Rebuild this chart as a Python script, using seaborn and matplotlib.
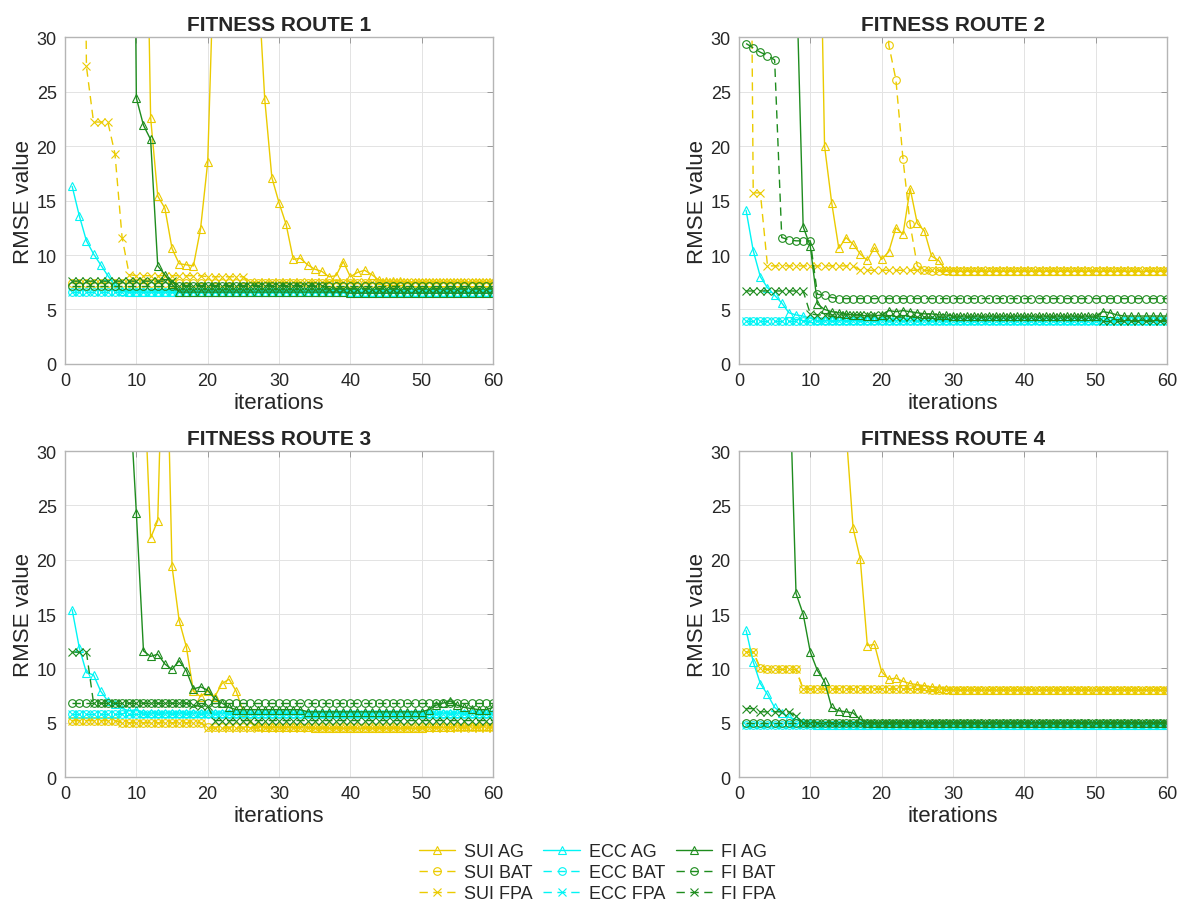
import matplotlib
matplotlib.use('Agg')
import matplotlib.pyplot as plt
import seaborn as sns

iters = list(range(1, 61))

# ---------------- route 1 ----------------
r1_sui_ag = [100, 100, 100, 100, 100, 100, 100, 100, 100, 100, 60, 22.6, 15.4, 14.3, 10.6, 9.2, 9.1, 9.0, 12.4, 18.5,
             40, 80, 90, 95, 85, 70, 36, 24.3, 17.1, 14.8, 12.8, 9.6, 9.7, 9.1, 8.7, 8.5, 8.0, 8.1, 9.4, 8.0,
             8.4, 8.6, 8.2, 7.7, 7.6, 7.6, 7.6, 7.5, 7.5, 7.5, 7.5, 7.5, 7.5, 7.5, 7.5, 7.5, 7.5, 7.5, 7.5, 7.5]
r1_sui_bat = [7.4, 7.4, 7.4, 7.4, 7.4, 7.4, 7.4, 7.4, 7.4, 7.4, 7.4, 7.4, 7.4, 7.4, 7.4, 7.4, 7.4, 7.4, 7.4, 7.4,
              7.4, 7.4, 7.4, 7.4, 7.4, 7.4, 7.4, 7.4, 7.4, 7.4, 7.4, 7.4, 7.4, 7.4, 7.4, 7.4, 7.4, 7.4, 7.4, 7.4,
              7.4, 7.4, 7.4, 7.4, 7.4, 7.4, 7.4, 7.4, 7.4, 7.4, 7.4, 7.4, 7.4, 7.4, 7.4, 7.4, 7.4, 7.4, 7.4, 7.4]
r1_sui_fpa = [100, 100, 27.3, 22.2, 22.2, 22.2, 19.3, 11.6, 8.2, 8.1, 8.1, 8.1, 8.1, 8.1, 8.1, 8.1, 8.1, 8.1, 8.1, 8.0,
              8.0, 8.0, 8.0, 8.0, 8.0, 7.5, 7.5, 7.5, 7.5, 7.5, 7.5, 7.5, 7.5, 7.5, 7.5, 7.5, 7.5, 7.5, 7.5, 7.5,
              7.5, 7.5, 7.5, 7.5, 7.5, 7.5, 7.5, 7.5, 7.5, 7.5, 7.5, 7.5, 7.5, 7.5, 7.5, 7.5, 7.5, 7.5, 7.5, 7.5]
r1_ecc_ag = [16.3, 13.6, 11.3, 10.1, 9.1, 8.1, 7.2, 6.7, 6.6, 6.6, 6.6, 6.6, 6.6, 6.6, 6.6, 6.6, 6.6, 6.6, 6.6, 6.6,
             6.6, 6.6, 6.6, 6.6, 6.6, 6.6, 6.6, 6.6, 6.6, 6.6, 6.6, 6.6, 6.6, 6.6, 6.6, 6.6, 6.6, 6.6, 6.6, 6.6,
             6.6, 6.6, 6.6, 6.6, 6.6, 6.6, 6.6, 6.6, 6.6, 6.6, 6.6, 6.6, 6.6, 6.6, 6.6, 6.6, 6.6, 6.6, 6.6, 6.6]
r1_ecc_bat = [6.6, 6.6, 6.6, 6.6, 6.6, 6.6, 6.6, 6.6, 6.6, 6.6, 6.6, 6.6, 6.6, 6.6, 6.6, 6.6, 6.6, 6.6, 6.6, 6.6,
              6.6, 6.6, 6.6, 6.6, 6.6, 6.6, 6.6, 6.6, 6.6, 6.6, 6.6, 6.6, 6.6, 6.6, 6.6, 6.6, 6.6, 6.6, 6.6, 6.6,
              6.6, 6.6, 6.6, 6.6, 6.6, 6.6, 6.6, 6.6, 6.6, 6.6, 6.6, 6.6, 6.6, 6.6, 6.6, 6.6, 6.6, 6.6, 6.6, 6.6]
r1_ecc_fpa = [6.6, 6.6, 6.6, 6.6, 6.6, 6.6, 6.6, 6.6, 6.6, 6.6, 6.6, 6.6, 6.6, 6.6, 6.6, 6.6, 6.6, 6.6, 6.6, 6.6,
              6.6, 6.6, 6.6, 6.6, 6.6, 6.6, 6.6, 6.6, 6.6, 6.6, 6.6, 6.6, 6.6, 6.6, 6.6, 6.6, 6.6, 6.6, 6.6, 6.6,
              6.6, 6.6, 6.6, 6.6, 6.6, 6.6, 6.6, 6.6, 6.6, 6.6, 6.6, 6.6, 6.6, 6.6, 6.6, 6.6, 6.6, 6.6, 6.6, 6.6]
r1_fi_ag = [100, 100, 100, 100, 100, 100, 100, 100, 100, 24.4, 21.9, 20.6, 9.0, 8.2, 7.3, 6.6, 6.6, 6.6, 6.6, 6.6,
            6.6, 6.6, 6.6, 6.6, 6.6, 6.6, 6.6, 6.6, 6.6, 6.6, 6.6, 6.6, 6.6, 6.6, 6.6, 6.6, 6.6, 6.6, 6.6, 6.5,
            6.5, 6.5, 6.5, 6.5, 6.5, 6.5, 6.5, 6.5, 6.5, 6.5, 6.5, 6.5, 6.5, 6.5, 6.5, 6.5, 6.5, 6.5, 6.5, 6.5]
r1_fi_bat = [7.2, 7.2, 7.2, 7.2, 7.2, 7.2, 7.2, 7.2, 7.2, 7.2, 7.2, 7.2, 7.2, 7.2, 7.2, 7.2, 7.2, 7.2, 7.2, 7.2,
             7.2, 7.2, 7.2, 7.2, 7.2, 7.2, 7.2, 7.2, 7.2, 7.2, 7.2, 7.2, 7.2, 7.2, 7.2, 7.2, 7.2, 7.2, 7.2, 7.2,
             7.2, 7.2, 7.2, 7.2, 7.2, 7.2, 7.2, 7.2, 7.2, 7.2, 7.2, 7.2, 7.2, 7.2, 7.2, 7.2, 7.2, 7.2, 7.2, 7.2]
r1_fi_fpa = [7.6, 7.6, 7.6, 7.6, 7.6, 7.6, 7.6, 7.6, 7.6, 7.6, 7.6, 7.6, 7.6, 7.6, 7.6, 7.2, 7.2, 7.2, 7.2, 7.2,
             7.2, 7.2, 7.2, 7.2, 7.2, 7.2, 7.2, 7.2, 7.2, 7.2, 7.2, 7.2, 7.2, 7.2, 7.2, 7.2, 6.9, 6.9, 6.9, 6.9,
             6.9, 6.9, 6.9, 6.9, 6.9, 6.9, 6.9, 6.9, 6.9, 6.9, 6.9, 6.9, 6.9, 6.9, 6.9, 6.9, 6.9, 6.9, 6.9, 6.9]

# ---------------- route 2 ----------------
r2_sui_ag = [100, 100, 100, 100, 100, 100, 100, 100, 100, 100, 55, 20.0, 14.8, 10.6, 11.6, 11.0, 10.1, 9.5, 10.7, 9.6,
             10.3, 12.5, 11.9, 16.1, 12.9, 12.2, 9.9, 9.5, 8.6, 8.5, 8.5, 8.5, 8.5, 8.5, 8.5, 8.5, 8.5, 8.5, 8.5, 8.5,
             8.5, 8.5, 8.5, 8.5, 8.5, 8.5, 8.5, 8.5, 8.5, 8.5, 8.5, 8.5, 8.5, 8.5, 8.5, 8.5, 8.5, 8.5, 8.5, 8.5]
r2_sui_bat = [100, 100, 100, 100, 100, 100, 100, 100, 100, 100, 100, 100, 100, 100, 100, 100, 100, 100, 100, 100,
              29.3, 26.1, 18.8, 12.8, 9.0, 8.6, 8.5, 8.5, 8.5, 8.5, 8.5, 8.5, 8.5, 8.5, 8.5, 8.5, 8.5, 8.5, 8.5, 8.5,
              8.5, 8.5, 8.5, 8.5, 8.5, 8.5, 8.5, 8.5, 8.5, 8.5, 8.5, 8.5, 8.5, 8.5, 8.5, 8.5, 8.5, 8.5, 8.5, 8.5]
r2_sui_fpa = [100, 15.7, 15.7, 9.0, 9.0, 9.0, 9.0, 9.0, 9.0, 9.0, 9.0, 9.0, 9.0, 9.0, 9.0, 9.0, 8.6, 8.6, 8.6, 8.6,
              8.6, 8.6, 8.6, 8.6, 8.6, 8.6, 8.6, 8.6, 8.6, 8.6, 8.6, 8.6, 8.6, 8.6, 8.6, 8.6, 8.6, 8.6, 8.6, 8.6,
              8.6, 8.6, 8.6, 8.6, 8.6, 8.6, 8.6, 8.6, 8.6, 8.6, 8.6, 8.6, 8.6, 8.6, 8.6, 8.6, 8.6, 8.6, 8.6, 8.6]
r2_ecc_ag = [14.1, 10.4, 8.0, 7.0, 6.3, 5.6, 4.7, 4.5, 4.4, 4.2, 4.0, 4.0, 4.0, 4.0, 4.0, 4.0, 4.0, 4.0, 4.0, 4.0,
             4.0, 4.0, 4.0, 4.0, 4.0, 4.0, 4.0, 4.0, 4.0, 4.0, 4.0, 4.0, 4.0, 4.0, 4.0, 4.0, 4.0, 4.0, 4.0, 4.0,
             4.0, 4.0, 4.0, 4.0, 4.0, 4.0, 4.0, 4.0, 4.0, 4.0, 4.0, 4.0, 4.0, 4.0, 4.0, 4.0, 4.0, 4.0, 4.0, 4.0]
r2_ecc_bat = [3.9, 3.9, 3.9, 3.9, 3.9, 3.9, 3.9, 3.9, 3.9, 3.9, 3.9, 3.9, 3.9, 3.9, 3.9, 3.9, 3.9, 3.9, 3.9, 3.9,
              3.9, 3.9, 3.9, 3.9, 3.9, 3.9, 3.9, 3.9, 3.9, 3.9, 3.9, 3.9, 3.9, 3.9, 3.9, 3.9, 3.9, 3.9, 3.9, 3.9,
              3.9, 3.9, 3.9, 3.9, 3.9, 3.9, 3.9, 3.9, 3.9, 3.9, 3.9, 3.9, 3.9, 3.9, 3.9, 3.9, 3.9, 3.9, 3.9, 3.9]
r2_ecc_fpa = [3.9, 3.9, 3.9, 3.9, 3.9, 3.9, 3.9, 3.9, 3.9, 3.9, 3.9, 3.9, 3.9, 3.9, 3.9, 3.9, 3.9, 3.9, 3.9, 3.9,
              3.9, 3.9, 3.9, 3.9, 3.9, 3.9, 3.9, 3.9, 3.9, 3.9, 3.9, 3.9, 3.9, 3.9, 3.9, 3.9, 3.9, 3.9, 3.9, 3.9,
              3.9, 3.9, 3.9, 3.9, 3.9, 3.9, 3.9, 3.9, 3.9, 3.9, 3.9, 3.9, 3.9, 3.9, 3.9, 3.9, 3.9, 3.9, 3.9, 3.9]
r2_fi_ag = [100, 100, 100, 100, 100, 100, 100, 37, 12.6, 10.8, 5.5, 5.0, 4.8, 4.7, 4.6, 4.5, 4.5, 4.4, 4.4, 4.5,
            4.9, 4.8, 4.9, 4.8, 4.7, 4.6, 4.6, 4.5, 4.5, 4.4, 4.4, 4.4, 4.4, 4.4, 4.4, 4.4, 4.4, 4.4, 4.4, 4.4,
            4.4, 4.4, 4.4, 4.4, 4.4, 4.4, 4.4, 4.4, 4.4, 4.4, 4.8, 4.7, 4.5, 4.4, 4.4, 4.4, 4.4, 4.4, 4.4, 4.4]
r2_fi_bat = [29.4, 29.0, 28.6, 28.3, 27.9, 11.6, 11.4, 11.3, 11.3, 11.3, 6.4, 6.3, 6.1, 6.0, 6.0, 6.0, 6.0, 6.0, 6.0, 6.0,
             6.0, 6.0, 6.0, 6.0, 6.0, 6.0, 6.0, 6.0, 6.0, 6.0, 6.0, 6.0, 6.0, 6.0, 6.0, 6.0, 6.0, 6.0, 6.0, 6.0,
             6.0, 6.0, 6.0, 6.0, 6.0, 6.0, 6.0, 6.0, 6.0, 6.0, 6.0, 6.0, 6.0, 6.0, 6.0, 6.0, 6.0, 6.0, 6.0, 6.0]
r2_fi_fpa = [6.7, 6.7, 6.7, 6.7, 6.7, 6.7, 6.7, 6.7, 6.7, 4.6, 4.5, 4.5, 4.5, 4.5, 4.5, 4.5, 4.5, 4.5, 4.5, 4.5,
             4.3, 4.3, 4.3, 4.3, 4.3, 4.3, 4.3, 4.3, 4.3, 4.3, 4.3, 4.3, 4.3, 4.3, 4.3, 4.3, 4.3, 4.3, 4.3, 4.3,
             4.3, 4.3, 4.3, 4.3, 4.3, 4.3, 4.3, 4.3, 4.3, 4.3, 3.9, 3.9, 3.9, 3.9, 3.9, 3.9, 3.9, 3.9, 3.9, 3.9]

# ---------------- route 3 ----------------
r3_sui_ag = [100, 100, 100, 100, 100, 100, 100, 100, 100, 100, 38, 22.0, 23.6, 48, 19.4, 14.4, 12.0, 7.9, 7.4, 7.9,
             7.4, 8.6, 9.0, 7.9, 6.0, 5.0, 4.7, 4.6, 4.6, 4.6, 4.6, 4.6, 4.6, 4.6, 4.5, 4.5, 4.5, 4.5, 4.5, 4.5,
             4.5, 4.5, 4.5, 4.5, 4.5, 4.5, 4.5, 4.5, 4.5, 4.5, 4.6, 4.6, 4.6, 4.6, 4.7, 4.7, 4.7, 4.7, 4.7, 4.7]
r3_sui_bat = [5.2, 5.2, 5.2, 5.2, 5.2, 5.2, 5.2, 5.0, 5.0, 5.0, 5.0, 5.0, 5.0, 5.0, 5.0, 5.0, 5.0, 5.0, 5.0, 4.6,
              4.6, 4.6, 4.6, 4.6, 4.6, 4.6, 4.6, 4.6, 4.6, 4.6, 4.6, 4.6, 4.6, 4.6, 4.6, 4.6, 4.6, 4.6, 4.6, 4.6,
              4.6, 4.6, 4.6, 4.6, 4.6, 4.6, 4.6, 4.6, 4.6, 4.6, 4.6, 4.6, 4.6, 4.6, 4.6, 4.6, 4.6, 4.6, 4.6, 4.6]
r3_sui_fpa = [5.2, 5.2, 5.2, 5.2, 5.2, 5.2, 5.2, 5.0, 5.0, 5.0, 5.0, 5.0, 5.0, 5.0, 5.0, 5.0, 5.0, 5.0, 5.0, 4.5,
              4.5, 4.5, 4.5, 4.5, 4.5, 4.5, 4.5, 4.5, 4.5, 4.5, 4.5, 4.5, 4.5, 4.5, 4.5, 4.5, 4.5, 4.5, 4.5, 4.5,
              4.5, 4.5, 4.5, 4.5, 4.5, 4.5, 4.5, 4.5, 4.5, 4.5, 4.5, 4.5, 4.5, 4.5, 4.5, 4.5, 4.5, 4.5, 4.5, 4.5]
r3_ecc_ag = [15.4, 11.9, 9.6, 9.4, 7.9, 7.0, 6.7, 6.3, 6.1, 6.2, 5.9, 5.9, 5.9, 5.9, 5.9, 5.9, 5.9, 5.9, 5.9, 5.9,
             5.9, 5.9, 5.9, 5.9, 5.9, 5.9, 5.9, 5.9, 5.9, 5.9, 5.9, 5.9, 5.9, 5.9, 5.9, 5.9, 5.9, 5.9, 5.9, 5.9,
             5.9, 5.9, 5.9, 5.9, 5.9, 5.9, 5.9, 5.9, 5.9, 5.9, 5.9, 5.9, 5.9, 5.9, 5.9, 5.9, 5.9, 5.9, 5.9, 5.9]
r3_ecc_bat = [5.8, 5.8, 5.8, 5.8, 5.8, 5.8, 5.8, 5.8, 5.8, 5.8, 5.8, 5.8, 5.8, 5.8, 5.8, 5.8, 5.8, 5.8, 5.8, 5.8,
              5.8, 5.8, 5.8, 5.8, 5.8, 5.8, 5.8, 5.8, 5.8, 5.8, 5.8, 5.8, 5.8, 5.8, 5.8, 5.8, 5.8, 5.8, 5.8, 5.8,
              5.8, 5.8, 5.8, 5.8, 5.8, 5.8, 5.8, 5.8, 5.8, 5.8, 5.8, 5.8, 5.8, 5.8, 5.8, 5.8, 5.8, 5.8, 5.8, 5.8]
r3_ecc_fpa = [5.8, 5.8, 5.8, 5.8, 5.8, 5.8, 5.8, 5.8, 5.8, 5.8, 5.8, 5.8, 5.8, 5.8, 5.8, 5.8, 5.8, 5.8, 5.8, 5.8,
              5.8, 5.8, 5.8, 5.8, 5.8, 5.8, 5.8, 5.8, 5.8, 5.8, 5.8, 5.8, 5.8, 5.8, 5.8, 5.8, 5.8, 5.8, 5.8, 5.8,
              5.8, 5.8, 5.8, 5.8, 5.8, 5.8, 5.8, 5.8, 5.8, 5.8, 5.8, 5.8, 5.8, 5.8, 5.8, 5.8, 5.8, 5.8, 5.8, 5.8]
r3_fi_ag = [100, 100, 100, 100, 100, 100, 100, 100, 36, 24.3, 11.6, 11.1, 11.3, 10.4, 9.9, 10.7, 9.8, 8.1, 8.3, 8.0,
            7.2, 6.8, 6.4, 6.2, 6.2, 6.2, 6.2, 6.2, 6.2, 6.2, 6.2, 6.2, 6.2, 6.0, 6.0, 6.0, 6.0, 6.0, 6.0, 6.0,
            6.0, 6.0, 6.0, 6.0, 6.0, 6.0, 6.0, 6.0, 6.0, 6.0, 6.2, 6.6, 6.8, 7.0, 6.6, 6.4, 6.3, 6.2, 6.2, 6.4]
r3_fi_bat = [6.8, 6.8, 6.8, 6.8, 6.8, 6.8, 6.8, 6.8, 6.8, 6.8, 6.8, 6.8, 6.8, 6.8, 6.8, 6.8, 6.8, 6.8, 6.8, 6.8,
             6.8, 6.8, 6.8, 6.8, 6.8, 6.8, 6.8, 6.8, 6.8, 6.8, 6.8, 6.8, 6.8, 6.8, 6.8, 6.8, 6.8, 6.8, 6.8, 6.8,
             6.8, 6.8, 6.8, 6.8, 6.8, 6.8, 6.8, 6.8, 6.8, 6.8, 6.8, 6.8, 6.8, 6.8, 6.8, 6.8, 6.8, 6.8, 6.8, 6.8]
r3_fi_fpa = [11.5, 11.5, 11.5, 6.8, 6.8, 6.8, 6.8, 6.8, 6.8, 6.8, 6.8, 6.8, 6.8, 6.8, 6.8, 6.8, 6.8, 6.6, 6.5, 6.5,
             5.2, 5.2, 5.2, 5.2, 5.2, 5.2, 5.2, 5.2, 5.2, 5.2, 5.2, 5.2, 5.2, 5.2, 5.2, 5.2, 5.2, 5.2, 5.2, 5.2,
             5.2, 5.2, 5.2, 5.2, 5.2, 5.2, 5.2, 5.2, 5.2, 5.2, 5.2, 5.2, 5.2, 5.2, 5.2, 5.2, 5.2, 5.2, 5.2, 5.2]

# ---------------- route 4 ----------------
r4_sui_ag = [100, 100, 100, 100, 100, 100, 100, 100, 100, 100, 100, 100, 100, 100, 32, 22.9, 20.1, 12.1, 12.2, 9.7,
             9.0, 9.1, 8.8, 8.6, 8.5, 8.4, 8.3, 8.2, 8.1, 8.0, 8.0, 8.0, 8.0, 8.0, 8.0, 8.0, 8.0, 8.0, 8.0, 8.0,
             8.0, 8.0, 8.0, 8.0, 8.0, 8.0, 8.0, 8.0, 8.0, 8.0, 8.0, 8.0, 8.0, 8.0, 8.0, 8.0, 8.0, 8.0, 8.0, 8.0]
r4_sui_bat = [11.5, 11.5, 10.0, 9.9, 9.9, 9.9, 9.9, 9.9, 8.1, 8.1, 8.1, 8.1, 8.1, 8.1, 8.1, 8.1, 8.1, 8.1, 8.1, 8.1,
              8.1, 8.1, 8.1, 8.1, 8.1, 8.1, 8.0, 8.0, 8.0, 8.0, 8.0, 8.0, 8.0, 8.0, 8.0, 8.0, 8.0, 8.0, 8.0, 8.0,
              8.0, 8.0, 8.0, 8.0, 8.0, 8.0, 8.0, 8.0, 8.0, 8.0, 8.0, 8.0, 8.0, 8.0, 8.0, 8.0, 8.0, 8.0, 8.0, 8.0]
r4_sui_fpa = [11.5, 11.5, 10.0, 9.9, 9.9, 9.9, 9.9, 9.9, 8.1, 8.1, 8.1, 8.1, 8.1, 8.1, 8.1, 8.1, 8.1, 8.1, 8.1, 8.1,
              8.1, 8.1, 8.1, 8.1, 8.1, 8.1, 8.0, 8.0, 8.0, 8.0, 8.0, 8.0, 8.0, 8.0, 8.0, 8.0, 8.0, 8.0, 8.0, 8.0,
              8.0, 8.0, 8.0, 8.0, 8.0, 8.0, 8.0, 8.0, 8.0, 8.0, 8.0, 8.0, 8.0, 8.0, 8.0, 8.0, 8.0, 8.0, 8.0, 8.0]
r4_ecc_ag = [13.5, 10.6, 8.6, 7.6, 6.4, 5.9, 5.5, 5.3, 5.1, 5.0, 4.8, 4.8, 4.8, 4.8, 4.8, 4.8, 4.8, 4.8, 4.8, 4.8,
             4.8, 4.8, 4.8, 4.8, 4.8, 4.8, 4.8, 4.8, 4.8, 4.8, 4.8, 4.8, 4.8, 4.8, 4.8, 4.8, 4.8, 4.8, 4.8, 4.8,
             4.8, 4.8, 4.8, 4.8, 4.8, 4.8, 4.8, 4.8, 4.8, 4.8, 4.8, 4.8, 4.8, 4.8, 4.8, 4.8, 4.8, 4.8, 4.8, 4.8]
r4_ecc_bat = [4.8, 4.8, 4.8, 4.8, 4.8, 4.8, 4.8, 4.8, 4.8, 4.8, 4.8, 4.8, 4.8, 4.8, 4.8, 4.8, 4.8, 4.8, 4.8, 4.8,
              4.8, 4.8, 4.8, 4.8, 4.8, 4.8, 4.8, 4.8, 4.8, 4.8, 4.8, 4.8, 4.8, 4.8, 4.8, 4.8, 4.8, 4.8, 4.8, 4.8,
              4.8, 4.8, 4.8, 4.8, 4.8, 4.8, 4.8, 4.8, 4.8, 4.8, 4.8, 4.8, 4.8, 4.8, 4.8, 4.8, 4.8, 4.8, 4.8, 4.8]
r4_ecc_fpa = [4.8, 4.8, 4.8, 4.8, 4.8, 4.8, 4.8, 4.8, 4.8, 4.8, 4.8, 4.8, 4.8, 4.8, 4.8, 4.8, 4.8, 4.8, 4.8, 4.8,
              4.8, 4.8, 4.8, 4.8, 4.8, 4.8, 4.8, 4.8, 4.8, 4.8, 4.8, 4.8, 4.8, 4.8, 4.8, 4.8, 4.8, 4.8, 4.8, 4.8,
              4.8, 4.8, 4.8, 4.8, 4.8, 4.8, 4.8, 4.8, 4.8, 4.8, 4.8, 4.8, 4.8, 4.8, 4.8, 4.8, 4.8, 4.8, 4.8, 4.8]
r4_fi_ag = [100, 100, 100, 100, 100, 100, 39, 16.9, 15.0, 11.5, 9.8, 8.8, 6.4, 6.1, 6.0, 5.9, 5.3, 5.0, 5.0, 5.0,
            5.0, 5.0, 5.0, 5.0, 5.0, 5.0, 5.0, 5.0, 5.0, 5.0, 5.0, 5.0, 5.0, 5.0, 5.0, 5.0, 5.0, 5.0, 5.0, 5.0,
            5.0, 5.0, 5.0, 5.0, 5.0, 5.0, 5.0, 5.0, 5.0, 5.0, 5.0, 5.0, 5.0, 5.0, 5.0, 5.0, 5.0, 5.0, 5.0, 5.0]
r4_fi_bat = [5.0, 5.0, 5.0, 5.0, 5.0, 5.0, 5.0, 5.0, 5.0, 5.0, 5.0, 5.0, 5.0, 5.0, 5.0, 5.0, 5.0, 5.0, 5.0, 5.0,
             5.0, 5.0, 5.0, 5.0, 5.0, 5.0, 5.0, 5.0, 5.0, 5.0, 5.0, 5.0, 5.0, 5.0, 5.0, 5.0, 5.0, 5.0, 5.0, 5.0,
             5.0, 5.0, 5.0, 5.0, 5.0, 5.0, 5.0, 5.0, 5.0, 5.0, 5.0, 5.0, 5.0, 5.0, 5.0, 5.0, 5.0, 5.0, 5.0, 5.0]
r4_fi_fpa = [6.3, 6.3, 6.0, 6.0, 6.0, 6.0, 6.0, 5.6, 5.0, 5.0, 5.0, 5.0, 5.0, 5.0, 5.0, 5.0, 5.0, 5.0, 5.0, 5.0,
             5.0, 5.0, 5.0, 5.0, 5.0, 5.0, 5.0, 5.0, 5.0, 5.0, 5.0, 5.0, 5.0, 5.0, 5.0, 5.0, 5.0, 5.0, 5.0, 5.0,
             5.0, 5.0, 5.0, 5.0, 5.0, 5.0, 5.0, 5.0, 5.0, 5.0, 5.0, 5.0, 5.0, 5.0, 5.0, 5.0, 5.0, 5.0, 5.0, 5.0]

routes = [
    [r1_sui_ag, r1_sui_bat, r1_sui_fpa, r1_ecc_ag, r1_ecc_bat, r1_ecc_fpa, r1_fi_ag, r1_fi_bat, r1_fi_fpa],
    [r2_sui_ag, r2_sui_bat, r2_sui_fpa, r2_ecc_ag, r2_ecc_bat, r2_ecc_fpa, r2_fi_ag, r2_fi_bat, r2_fi_fpa],
    [r3_sui_ag, r3_sui_bat, r3_sui_fpa, r3_ecc_ag, r3_ecc_bat, r3_ecc_fpa, r3_fi_ag, r3_fi_bat, r3_fi_fpa],
    [r4_sui_ag, r4_sui_bat, r4_sui_fpa, r4_ecc_ag, r4_ecc_bat, r4_ecc_fpa, r4_fi_ag, r4_fi_bat, r4_fi_fpa],
]
labels = ['SUI AG', 'SUI BAT', 'SUI FPA', 'ECC AG', 'ECC BAT', 'ECC FPA', 'FI AG', 'FI BAT', 'FI FPA']
titles = ['FITNESS ROUTE 1', 'FITNESS ROUTE 2', 'FITNESS ROUTE 3', 'FITNESS ROUTE 4']

colors = {'SUI': '#EBCB00', 'ECC': '#00F5F5', 'FI': '#1E8C1E'}
markers = {'AG': '^', 'BAT': 'o', 'FPA': 'x'}
styles = {'AG': '-', 'BAT': (0, (6, 4)), 'FPA': (0, (6, 4))}

sns.set_style('white')
plt.rcParams['font.family'] = ['Liberation Sans', 'DejaVu Sans']

fig = plt.figure(figsize=(11.78, 9.03), dpi=100)
positions = [[0.0552, 0.5958, 0.3633, 0.3621],
             [0.6273, 0.5958, 0.3633, 0.3621],
             [0.0552, 0.1384, 0.3633, 0.3610],
             [0.6273, 0.1384, 0.3633, 0.3610]]

axes = []
for k in range(4):
    ax = fig.add_axes(positions[k])
    axes.append(ax)
    for vals, lab in zip(routes[k], labels):
        grp, alg = lab.split()
        sns.lineplot(x=iters, y=vals, ax=ax, color=colors[grp], linestyle=styles[alg],
                     marker=markers[alg], markersize=5.5, markerfacecolor='none',
                     markeredgecolor=colors[grp], markeredgewidth=0.8, linewidth=1.0,
                     label=lab, legend=False)
    ax.set_xlim(0, 60)
    ax.set_ylim(0, 30)
    ax.set_xticks([0, 10, 20, 30, 40, 50, 60])
    ax.set_yticks([0, 5, 10, 15, 20, 25, 30])
    ax.grid(True, color='#e3e3e3', linewidth=0.7)
    ax.tick_params(direction='in', top=True, right=True, length=4, width=0.7,
                   colors='#9a9a9a', labelcolor='#262626', labelsize=13, pad=6)
    for sp in ax.spines.values():
        sp.set_color('#b5b5b5')
        sp.set_linewidth(1.0)
    ax.set_title(titles[k], fontsize=15, fontweight='bold', pad=5)
    ax.set_xlabel('iterations', fontsize=16, color='#262626', labelpad=2)
    ax.set_ylabel('RMSE value', fontsize=16, color='#262626', labelpad=2)

handles = axes[0].get_lines()[:9]
fig.legend(handles, labels, loc='lower center', bbox_to_anchor=(0.507, -0.018), ncol=3,
           frameon=False, fontsize=13, handlelength=2.0, columnspacing=0.6,
           handletextpad=0.5, labelspacing=0.22)

fig.savefig('out.png', dpi=100)
plt.close(fig)
